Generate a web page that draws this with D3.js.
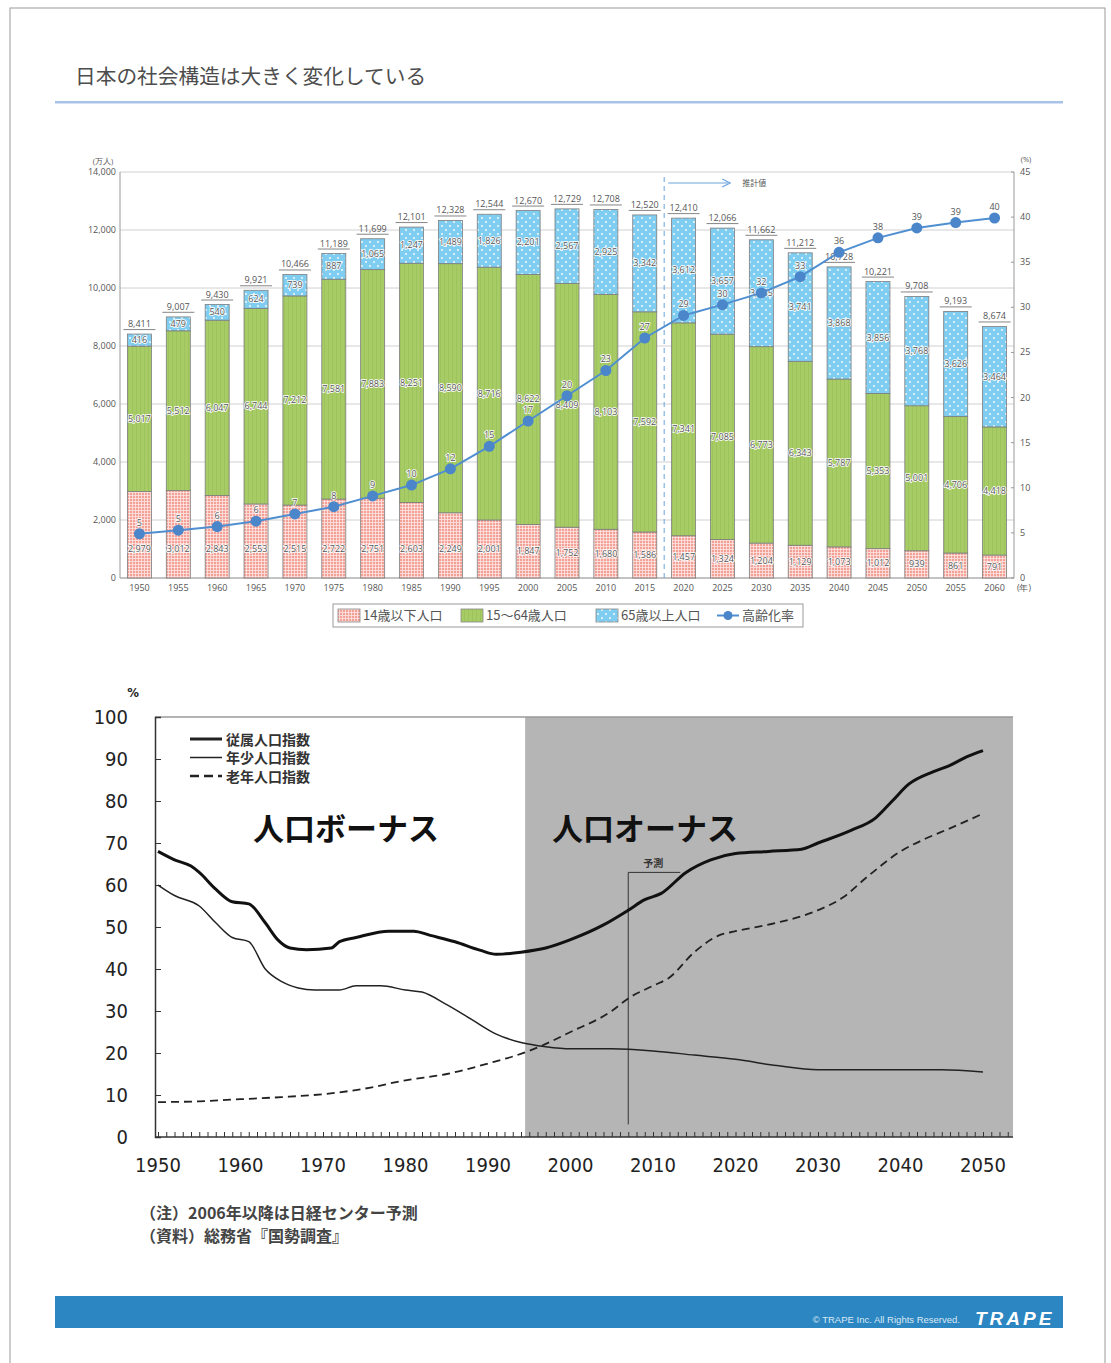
<!DOCTYPE html>
<html>
<head>
<meta charset="utf-8">
<script src="https://cdn.jsdelivr.net/npm/d3@7"></script>
<style>
  body { margin: 0; background: #fff; }
  svg { display: block; }
</style>
</head>
<body>
<svg id="page" width="1111" height="1363"></svg>
<script>
// ---- data: top chart (万人 / %) ----
var years = [1950, 1955, 1960, 1965, 1970, 1975, 1980, 1985, 1990, 1995, 2000, 2005,
             2010, 2015, 2020, 2025, 2030, 2035, 2040, 2045, 2050, 2055, 2060];
var totals = [8411, 9007, 9430, 9921, 10466, 11189, 11699, 12101, 12328, 12544, 12670, 12729,
              12708, 12520, 12410, 12066, 11662, 11212, 10728, 10221, 9708, 9193, 8674];
var under14 = [2979, 3012, 2843, 2553, 2515, 2722, 2751, 2603, 2249, 2001, 1847, 1752,
               1680, 1586, 1457, 1324, 1204, 1129, 1073, 1012, 939, 861, 791];
var working = [5017, 5512, 6047, 6744, 7212, 7581, 7883, 8251, 8590, 8716, 8622, 8409,
               8103, 7592, 7341, 7085, 6773, 6343, 5787, 5353, 5001, 4706, 4418];
var elderly = [416, 479, 540, 624, 739, 887, 1065, 1247, 1489, 1826, 2201, 2567,
               2925, 3342, 3612, 3657, 3685, 3741, 3868, 3856, 3768, 3626, 3464];
var agingRate = [4.9, 5.3, 5.7, 6.3, 7.1, 7.9, 9.1, 10.3, 12.1, 14.6, 17.4, 20.2,
                 23.0, 26.6, 29.1, 30.3, 31.6, 33.4, 36.1, 37.7, 38.8, 39.4, 39.9];
var leftTicks = [0, 2000, 4000, 6000, 8000, 10000, 12000, 14000];
var rightTicks = [0, 5, 10, 15, 20, 25, 30, 35, 40, 45];

// ---- data: bottom chart (%) ----
var totalIndex = [[1950, 68], [1952, 66], [1954, 64.5], [1955, 63], [1957, 59], [1959, 56],
  [1961, 55.5], [1963, 51], [1964.5, 47], [1966, 45], [1968, 44.6], [1971, 45], [1972, 46.5],
  [1974, 47.5], [1978, 49], [1981, 49], [1983, 48], [1986, 46.5], [1989, 44.5], [1991, 43.5],
  [1994, 44], [1997, 45], [2000, 47], [2004, 50.5], [2007, 54], [2009, 56.5], [2011, 58],
  [2014, 63], [2017, 66], [2020, 67.5], [2024, 68], [2028, 68.5], [2030, 70], [2034, 73],
  [2037, 76], [2039, 80], [2041, 84], [2044, 87], [2046, 88.5], [2048, 90.5], [2050, 92]];
var childIndex = [[1950, 60], [1952, 57.5], [1955, 55], [1957, 51], [1959, 47.5], [1961, 46.5],
  [1963, 40], [1965, 37], [1967, 35.5], [1969, 35], [1972, 35], [1974, 36], [1977, 36],
  [1980, 35], [1982, 34.5], [1985, 31.5], [1988, 28], [1991, 24.5], [1994, 22.5], [1997, 21.5],
  [2000, 21], [2005, 21], [2010, 20.5], [2015, 19.5], [2020, 18.5], [2025, 17], [2030, 16],
  [2035, 16], [2040, 16], [2045, 16], [2050, 15.5]];
var oldIndex = [[1950, 8.3], [1955, 8.5], [1960, 9], [1965, 9.5], [1970, 10.2], [1975, 11.5],
  [1980, 13.5], [1985, 15], [1990, 17.5], [1995, 20.5], [2000, 25], [2005, 30], [2007, 33],
  [2010, 36], [2012, 38], [2015, 44], [2018, 48], [2020, 49], [2025, 51], [2030, 54],
  [2033, 57], [2036, 62], [2040, 68], [2043, 71], [2046, 73.5], [2050, 77]];
var decadeLabels = [1950, 1960, 1970, 1980, 1990, 2000, 2010, 2020, 2030, 2040, 2050];
var pctTicks = [0, 10, 20, 30, 40, 50, 60, 70, 80, 90, 100];

var jp = "'Noto Sans CJK JP', 'Noto Sans', sans-serif";
var narrow = "'DejaVu Sans Condensed', 'Liberation Sans Narrow', 'Liberation Sans', sans-serif";

var svg = d3.select("#page");

// page frame, title and header rule
svg.append("rect").attr("x", 10).attr("y", 8).attr("width", 1095).attr("height", 1370)
    .attr("fill", "none").attr("stroke", "#9a9a9a").attr("stroke-width", 1);
svg.append("text").attr("x", 75).attr("y", 84)
    .style("font-family", jp).style("font-size", "20.7px").style("fill", "#4d4d4d")
    .text("日本の社会構造は大きく変化している");
svg.append("rect").attr("x", 55).attr("y", 101).attr("width", 1008).attr("height", 2.5)
    .attr("fill", "#a9c3e8");

// patterns for the bars
var defs = svg.append("defs");
var pPink = defs.append("pattern").attr("id", "pink").attr("patternUnits", "userSpaceOnUse")
    .attr("width", 3).attr("height", 3);
pPink.append("rect").attr("width", 3).attr("height", 3).attr("fill", "#f3a197");
pPink.append("rect").attr("width", 3).attr("height", 0.8).attr("fill", "#fde6e2");
pPink.append("rect").attr("width", 0.8).attr("height", 3).attr("fill", "#fde6e2");

var pGreen = defs.append("pattern").attr("id", "green").attr("patternUnits", "userSpaceOnUse")
    .attr("width", 4).attr("height", 4);
pGreen.append("rect").attr("width", 4).attr("height", 4).attr("fill", "#a7cc66");
pGreen.append("rect").attr("width", 1).attr("height", 4).attr("fill", "#9dc35c");

var pBlue = defs.append("pattern").attr("id", "blue").attr("patternUnits", "userSpaceOnUse")
    .attr("width", 8).attr("height", 8);
pBlue.append("rect").attr("width", 8).attr("height", 8).attr("fill", "#7fcdf0");
pBlue.append("circle").attr("cx", 2).attr("cy", 2).attr("r", 0.9).attr("fill", "#ffffff");
pBlue.append("circle").attr("cx", 6).attr("cy", 6).attr("r", 0.9).attr("fill", "#ffffff");

// ================= top chart =================
var tp = { left: 120, right: 1014, top: 172, bottom: 578 };

var x = d3.scaleBand().domain(years).range([tp.left, tp.right]);
var y = d3.scaleLinear().domain([0, 14000]).range([tp.bottom, tp.top]);
var yR = d3.scaleLinear().domain([0, 45]).range([tp.bottom, tp.top]);
var barW = 24;
var cx = function (i) { return x(years[i]) + x.bandwidth() / 2; };

var g1 = svg.append("g");
var small = function (sel) {
    return sel.style("font-family", "'Open Sans', 'Noto Sans', sans-serif")
        .style("font-size", "9px").style("fill", "#555");
};

// gridlines
g1.selectAll(".grid").data(leftTicks).enter().append("line")
    .attr("x1", tp.left).attr("x2", tp.right)
    .attr("y1", function (d) { return y(d); }).attr("y2", function (d) { return y(d); })
    .attr("stroke", function (d) { return d === 0 ? "#888" : "#d0d0d0"; })
    .attr("stroke-width", function (d) { return d === 0 ? 1.2 : 1; });

// axes (custom: labels only, plus axis lines)
g1.append("line").attr("x1", tp.left).attr("x2", tp.left).attr("y1", tp.top).attr("y2", tp.bottom)
    .attr("stroke", "#999");
g1.append("line").attr("x1", tp.right).attr("x2", tp.right).attr("y1", tp.top).attr("y2", tp.bottom)
    .attr("stroke", "#999");
small(g1.selectAll(".ly").data(leftTicks).enter().append("text")
    .attr("x", tp.left - 4).attr("y", function (d) { return y(d) + 3; })
    .attr("text-anchor", "end")
    .text(function (d) { return d3.format(",")(d); }));
small(g1.append("text").attr("x", 103).attr("y", 164).attr("text-anchor", "middle").text("(万人)"))
    .style("font-size", "7.5px");
g1.selectAll(".rt").data(rightTicks).enter().append("line")
    .attr("x1", tp.right - 3).attr("x2", tp.right)
    .attr("y1", function (d) { return yR(d); }).attr("y2", function (d) { return yR(d); })
    .attr("stroke", "#999");
small(g1.selectAll(".ry").data(rightTicks).enter().append("text")
    .attr("x", tp.right + 6).attr("y", function (d) { return yR(d) + 3; })
    .text(function (d) { return d; }));
small(g1.append("text").attr("x", 1026).attr("y", 162).attr("text-anchor", "middle").text("(%)"))
    .style("font-size", "7.5px");
small(g1.selectAll(".xl").data(years).enter().append("text")
    .attr("x", function (d, i) { return cx(i); }).attr("y", 591)
    .attr("text-anchor", "middle").style("font-size", "8.5px")
    .text(function (d) { return d; }));
small(g1.append("text").attr("x", 1024).attr("y", 591).attr("text-anchor", "middle").text("(年)"))
    .style("font-size", "8.5px");

// projection marker
var splitX = (cx(13) + cx(14)) / 2;
g1.append("line").attr("x1", splitX).attr("x2", splitX).attr("y1", 177).attr("y2", tp.bottom)
    .attr("stroke", "#6aa3dc").attr("stroke-width", 1).attr("stroke-dasharray", "5,4");
g1.append("line").attr("x1", splitX + 4).attr("x2", splitX + 64).attr("y1", 183).attr("y2", 183)
    .attr("stroke", "#6aa3dc").attr("stroke-width", 1.2);
g1.append("path").attr("d", "M" + (splitX + 58) + ",179 L" + (splitX + 66) + ",183 L" + (splitX + 58) + ",187")
    .attr("fill", "none").attr("stroke", "#6aa3dc").attr("stroke-width", 1.2);
small(g1.append("text").attr("x", splitX + 78).attr("y", 186).text("推計値"))
    .style("font-family", jp).style("font-size", "8px");

// stacked bars
var stacks = years.map(function (yr, i) {
    return [
        { y0: 0, y1: under14[i], fill: "url(#pink)" },
        { y0: under14[i], y1: under14[i] + working[i], fill: "url(#green)" },
        { y0: under14[i] + working[i], y1: under14[i] + working[i] + elderly[i], fill: "url(#blue)" }
    ];
});
stacks.forEach(function (segs, i) {
    g1.selectAll(null).data(segs).enter().append("rect")
        .attr("x", cx(i) - barW / 2).attr("width", barW)
        .attr("y", function (d) { return y(d.y1); })
        .attr("height", function (d) { return y(d.y0) - y(d.y1); })
        .attr("fill", function (d) { return d.fill; })
        .attr("stroke", "#7d7d7d").attr("stroke-width", 0.8);
});

// segment labels
function segLabel(vals, yPos) {
    small(g1.selectAll(null).data(vals).enter().append("text")
        .attr("x", function (d, i) { return cx(i); })
        .attr("y", function (d, i) { return yPos(d, i) + 3; })
        .attr("text-anchor", "middle")
        .style("font-size", "8.5px").style("fill", "#5a5a5a")
        .style("stroke", "#fff").style("stroke-width", 1.6).style("paint-order", "stroke")
        .text(function (d) { return d3.format(",")(d); }));
}
segLabel(under14, function (d) { return y(Math.min(d / 2, 1000)); });
segLabel(working, function (d, i) { return y(under14[i] + d / 2); });
segLabel(elderly, function (d, i) { return y(under14[i] + working[i] + d / 2); });

// totals with underline
small(g1.selectAll(".tot").data(totals).enter().append("text")
    .attr("x", function (d, i) { return cx(i); })
    .attr("y", function (d) { return y(d) - 7; })
    .attr("text-anchor", "middle").style("font-size", "9px").style("fill", "#444")
    .text(function (d) { return d3.format(",")(d); }));
g1.selectAll(".totl").data(totals).enter().append("line")
    .attr("x1", function (d, i) { return cx(i) - 16; })
    .attr("x2", function (d, i) { return cx(i) + 16; })
    .attr("y1", function (d) { return y(d) - 4.5; })
    .attr("y2", function (d) { return y(d) - 4.5; })
    .attr("stroke", "#777").attr("stroke-width", 0.9);

// aging rate line
var rateLine = d3.line()
    .x(function (d, i) { return cx(i); })
    .y(function (d) { return yR(d); });
g1.append("path").datum(agingRate).attr("d", rateLine)
    .attr("fill", "none").attr("stroke", "#4f8fd1").attr("stroke-width", 2);
g1.selectAll(".dot").data(agingRate).enter().append("circle")
    .attr("cx", function (d, i) { return cx(i); })
    .attr("cy", function (d) { return yR(d); })
    .attr("r", 5.5).attr("fill", "#4a86c9");
small(g1.selectAll(".rl").data(agingRate).enter().append("text")
    .attr("x", function (d, i) { return cx(i); })
    .attr("y", function (d) { return yR(d) - 8; })
    .attr("text-anchor", "middle").style("font-size", "9px").style("fill", "#555")
    .style("stroke", "#fff").style("stroke-width", 1.6).style("paint-order", "stroke")
    .text(function (d) { return Math.round(d); }));

// legend
var lg = g1.append("g");
lg.append("rect").attr("x", 333).attr("y", 604).attr("width", 470).attr("height", 23)
    .attr("fill", "#fff").attr("stroke", "#999");
var legendItems = [
    { x: 338, fill: "url(#pink)", label: "14歳以下人口" },
    { x: 461, fill: "url(#green)", label: "15～64歳人口" },
    { x: 596, fill: "url(#blue)", label: "65歳以上人口" }
];
legendItems.forEach(function (it) {
    lg.append("rect").attr("x", it.x).attr("y", 609).attr("width", 22).attr("height", 13)
        .attr("fill", it.fill).attr("stroke", "#888").attr("stroke-width", 0.8);
    lg.append("text").attr("x", it.x + 25).attr("y", 620)
        .style("font-family", jp).style("font-size", "13px").style("fill", "#555")
        .text(it.label);
});
lg.append("line").attr("x1", 717).attr("x2", 739).attr("y1", 615.5).attr("y2", 615.5)
    .attr("stroke", "#4f8fd1").attr("stroke-width", 2);
lg.append("circle").attr("cx", 728).attr("cy", 615.5).attr("r", 4.5).attr("fill", "#4a86c9");
lg.append("text").attr("x", 742).attr("y", 620)
    .style("font-family", jp).style("font-size", "13px").style("fill", "#555").text("高齢化率");

// ================= bottom chart =================
var bot = { left: 155, right: 1013, top: 717, bottom: 1137 };
var x2 = d3.scaleLinear().domain([1950, 2050]).range([158, 983]);
var y2 = d3.scaleLinear().domain([0, 100]).range([bot.bottom, bot.top]);
var g2 = svg.append("g");

// onus shading
g2.append("rect").attr("x", x2(1994.5)).attr("y", bot.top)
    .attr("width", bot.right - x2(1994.5)).attr("height", bot.bottom - bot.top)
    .attr("fill", "#b5b5b5");
g2.append("line").attr("x1", bot.left).attr("x2", bot.right).attr("y1", bot.top).attr("y2", bot.top)
    .attr("stroke", "#9a9a9a").attr("stroke-width", 1.5);

// axes
var yAxis2 = d3.axisLeft(y2).tickValues(pctTicks).tickSize(-6).tickPadding(27);
g2.append("g").attr("transform", "translate(" + bot.left + ",0)").call(yAxis2)
    .call(function (g) {
        g.select(".domain").attr("stroke", "#333").attr("stroke-width", 1.5);
        g.selectAll(".tick line").attr("stroke", "#333");
        g.selectAll("text").style("font-family", narrow).style("font-size", "20px")
            .style("fill", "#222");
    });
var yearTicks = d3.range(1950, 2054);
var xAxis2 = d3.axisBottom(x2).tickValues(yearTicks).tickSize(-5).tickFormat("");
g2.append("g").attr("transform", "translate(0," + bot.bottom + ")").call(xAxis2)
    .call(function (g) {
        g.select(".domain").remove();
        g.selectAll(".tick line").attr("stroke", "#333");
    });
g2.append("line").attr("x1", bot.left).attr("x2", bot.right).attr("y1", bot.bottom).attr("y2", bot.bottom)
    .attr("stroke", "#333").attr("stroke-width", 1.5);
g2.selectAll(".dl").data(decadeLabels).enter().append("text")
    .attr("x", function (d) { return x2(d); }).attr("y", 1172)
    .attr("text-anchor", "middle")
    .style("font-family", narrow).style("font-size", "20px").style("fill", "#222")
    .text(function (d) { return d; });
g2.append("text").attr("x", 133).attr("y", 697).attr("text-anchor", "middle")
    .style("font-family", narrow).style("font-size", "13px").style("font-weight", "bold")
    .style("fill", "#222").text("%");

// forecast marker
var fx = x2(2007);
g2.append("line").attr("x1", fx).attr("x2", fx).attr("y1", y2(63)).attr("y2", y2(3))
    .attr("stroke", "#333").attr("stroke-width", 1);
g2.append("line").attr("x1", fx).attr("x2", fx + 52).attr("y1", y2(63)).attr("y2", y2(63))
    .attr("stroke", "#333").attr("stroke-width", 1);
g2.append("text").attr("x", fx + 25).attr("y", y2(63) - 5).attr("text-anchor", "middle")
    .style("font-family", jp).style("font-size", "10px").style("font-weight", "bold")
    .style("fill", "#333").text("予測");

// lines
var line2 = d3.line()
    .x(function (d) { return x2(d[0]); })
    .y(function (d) { return y2(d[1]); })
    .curve(d3.curveMonotoneX);
g2.append("path").datum(childIndex).attr("d", line2)
    .attr("fill", "none").attr("stroke", "#222").attr("stroke-width", 1.5);
g2.append("path").datum(oldIndex).attr("d", line2)
    .attr("fill", "none").attr("stroke", "#222").attr("stroke-width", 1.8)
    .attr("stroke-dasharray", "8,5");
g2.append("path").datum(totalIndex).attr("d", line2)
    .attr("fill", "none").attr("stroke", "#111").attr("stroke-width", 3);

// bonus / onus labels
g2.append("text").attr("x", 253).attr("y", 840)
    .style("font-family", jp).style("font-size", "31px").style("font-weight", "bold")
    .style("fill", "#111").text("人口ボーナス");
g2.append("text").attr("x", 552).attr("y", 840)
    .style("font-family", jp).style("font-size", "31px").style("font-weight", "bold")
    .style("fill", "#111").text("人口オーナス");

// legend
var leg2 = [
    { label: "従属人口指数", w: 3, dash: null },
    { label: "年少人口指数", w: 1.5, dash: null },
    { label: "老年人口指数", w: 2.5, dash: "9,5" }
];
leg2.forEach(function (it, i) {
    var ly = 739 + i * 18.5;
    g2.append("line").attr("x1", 190).attr("x2", 222).attr("y1", ly).attr("y2", ly)
        .attr("stroke", "#222").attr("stroke-width", it.w)
        .attr("stroke-dasharray", it.dash);
    g2.append("text").attr("x", 226).attr("y", ly + 5.5)
        .style("font-family", jp).style("font-size", "14px").style("font-weight", "bold")
        .style("fill", "#333").text(it.label);
});

// notes
var notes = ["（注）2006年以降は日経センター予測", "（資料）総務省『国勢調査』"];
svg.selectAll(".note").data(notes).enter().append("text")
    .attr("x", 140).attr("y", function (d, i) { return 1219 + i * 23; })
    .style("font-family", jp).style("font-size", "16px").style("font-weight", "bold")
    .style("fill", "#444").text(function (d) { return d; });

// footer
svg.append("rect").attr("x", 55).attr("y", 1296).attr("width", 1008).attr("height", 32)
    .attr("fill", "#2c86c2");
svg.append("text").attr("x", 960).attr("y", 1323).attr("text-anchor", "end")
    .style("font-family", "'Liberation Sans', Arial, sans-serif").style("font-size", "9.5px")
    .style("fill", "#dbe9f5").text("© TRAPE Inc. All Rights Reserved.");
svg.append("text").attr("x", 975).attr("y", 1325)
    .style("font-family", "'Liberation Sans', Arial, sans-serif").style("font-size", "19px")
    .style("font-weight", "bold").style("font-style", "italic").style("letter-spacing", "3px")
    .style("fill", "#fff").text("TRAPE");
</script>
</body>
</html>
